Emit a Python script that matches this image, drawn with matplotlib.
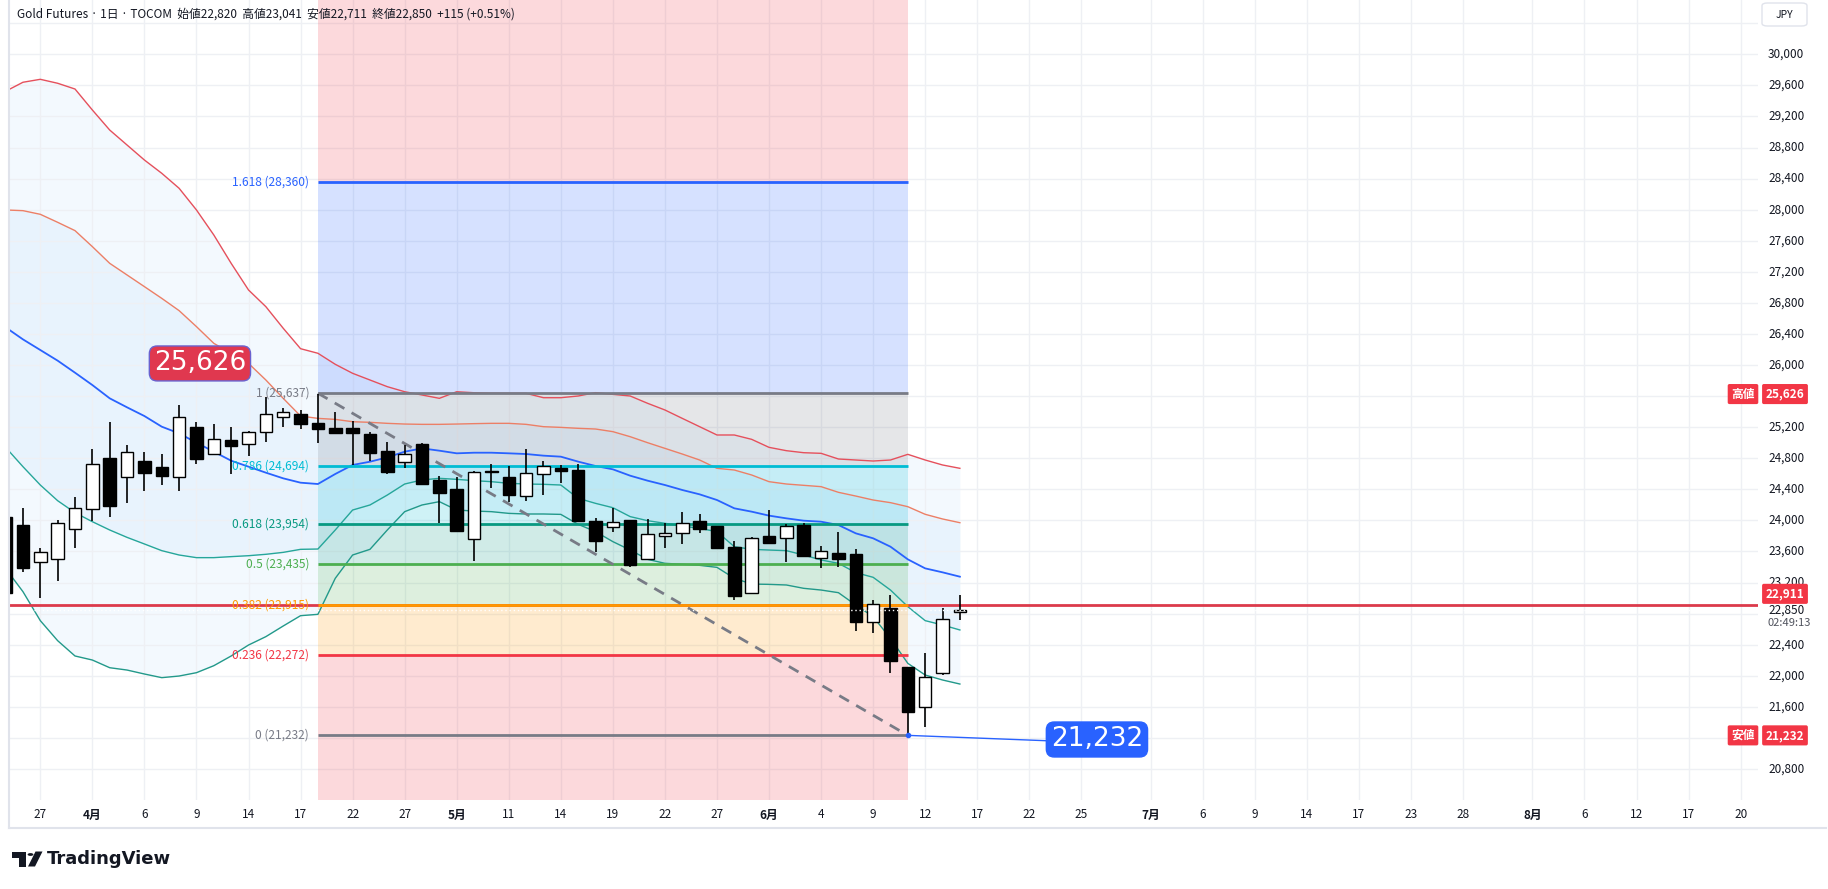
import matplotlib
matplotlib.use("Agg")
import matplotlib.pyplot as plt
import matplotlib.transforms as mtransforms
from matplotlib.patches import Polygon, Circle, FancyBboxPatch

plt.rcParams["font.family"] = ["Noto Sans CJK JP", "DejaVu Sans"]

# ---- data (bar index 0 = 3/27, first bar drawn is index -2) ----
first_bar = -2
opens = [24048, 23940, 23460, 23498, 23884, 24142, 24803, 24554, 24760, 24687,
         24562, 25197, 24859, 25034, 24979, 25133, 25326, 25365, 25249, 25185,
         25185, 25108, 24893, 24747, 24983, 24520, 24399, 23756, 24630, 24558,
         24318, 24592, 24674, 24648, 23996, 23910, 24005, 23502, 23798, 23833,
         23987, 23923, 23653, 23061, 23794, 23769, 23940, 23511, 23575, 23563,
         22696, 22867, 22108, 21601, 22039, 22820]
highs = [24150, 24155, 23640, 24005, 24305, 24923, 25271, 24970, 24880, 24854,
         25481, 25262, 25236, 25206, 25150, 25584, 25442, 25421, 25626, 25400,
         25283, 25137, 25004, 24966, 24990, 24571, 24562, 24630, 24721, 24700,
         24919, 24764, 24713, 24721, 24026, 24155, 24010, 24018, 23970, 24108,
         24086, 23930, 23734, 23790, 24133, 23949, 23962, 23670, 23850, 23631,
         22975, 23039, 22115, 22288, 22867, 23041]
lows = [22950, 23331, 23005, 23223, 23648, 23996, 24048, 24228, 24378, 24455,
        24382, 24730, 24850, 24592, 24833, 25013, 25206, 25172, 25000, 25115,
        24713, 24768, 24592, 24670, 24455, 23962, 23860, 23477, 24421, 24241,
        24254, 24331, 24485, 23983, 23597, 23854, 23404, 23490, 23648, 23691,
        23833, 23635, 22975, 23048, 23700, 23468, 23540, 23391, 23404, 22580,
        22554, 22031, 21232, 21344, 22009, 22711]
closes = [23060, 23391, 23588, 23962, 24155, 24721, 24189, 24876, 24614, 24575,
          25326, 24794, 25043, 24962, 25133, 25365, 25391, 25245, 25180, 25120,
          25129, 24863, 24627, 24850, 24468, 24348, 23867, 24618, 24625, 24331,
          24605, 24700, 24631, 23992, 23738, 23983, 23425, 23820, 23833, 23970,
          23884, 23640, 23030, 23769, 23704, 23932, 23545, 23610, 23498, 22696,
          22919, 22194, 21537, 21988, 22726, 22850]

# Bollinger bands (±1σ, ±2σ) read per bar
bb_upper2 = [29524, 29640, 29678, 29627, 29553, 29283, 29025, 28832, 28639, 28468,
             28275, 27996, 27674, 27309, 26966, 26751, 26473, 26210, 26151, 26009,
             25893, 25807, 25721, 25656, 25614, 25571, 25656, 25643, 25636, 25635,
             25635, 25579, 25579, 25601, 25644, 25622, 25601, 25507, 25421, 25313,
             25206, 25099, 25099, 25043, 24940, 24897, 24871, 24863, 24790, 24777,
             24764, 24777, 24850, 24777, 24713, 24670]
bb_upper1 = [27996, 27987, 27940, 27837, 27730, 27524, 27309, 27159, 27009, 26858,
             26700, 26494, 26279, 26150, 26021, 25807, 25571, 25343, 25313, 25300,
             25270, 25262, 25249, 25240, 25236, 25236, 25240, 25245, 25249, 25249,
             25236, 25206, 25197, 25185, 25176, 25142, 25077, 25000, 24927, 24854,
             24777, 24670, 24648, 24584, 24498, 24468, 24451, 24434, 24361, 24313,
             24262, 24228, 24176, 24078, 24018, 23970]
bb_middle = [26485, 26330, 26193, 26056, 25901, 25742, 25571, 25455, 25343, 25206,
             25120, 25000, 24884, 24768, 24691, 24614, 24541, 24485, 24468, 24597,
             24713, 24755, 24811, 24884, 24927, 24897, 24863, 24871, 24871, 24863,
             24854, 24833, 24820, 24756, 24700, 24657, 24575, 24511, 24455, 24391,
             24335, 24262, 24155, 24112, 24061, 24026, 23996, 23983, 23940, 23833,
             23769, 23661, 23498, 23382, 23331, 23275]
bb_lower1 = [24940, 24691, 24455, 24253, 24099, 23983, 23876, 23781, 23696, 23610,
             23554, 23520, 23520, 23533, 23545, 23563, 23588, 23627, 23631, 23876,
             24133, 24198, 24326, 24468, 24520, 24541, 24528, 24511, 24498, 24477,
             24468, 24464, 24455, 24284, 24219, 24163, 24048, 23996, 23962, 23927,
             23897, 23854, 23661, 23627, 23618, 23610, 23554, 23490, 23447, 23327,
             23267, 23103, 22889, 22709, 22653, 22589]
bb_lower2 = [23380, 23082, 22709, 22451, 22254, 22202, 22103, 22073, 22022, 21975,
             21996, 22039, 22129, 22254, 22395, 22503, 22640, 22773, 22790, 23254,
             23554, 23627, 23876, 24112, 24198, 24241, 24133, 24120, 24112, 24090,
             24082, 24082, 24077, 23949, 23855, 23726, 23618, 23498, 23447, 23434,
             23421, 23395, 23254, 23180, 23176, 23168, 23125, 23103, 23069, 22910,
             22760, 22480, 22159, 22009, 21945, 21893]

# Fibonacci retracement
fib_start, fib_end = 16, 50
fib_levels = ["0", "0.236", "0.382", "0.5", "0.618", "0.786", "1", "1.618"]
fib_prices = [21232, 22272, 22915, 23435, 23954, 24694, 25637, 28360]
fib_colors = ["#787b86", "#f23645", "#ff9800", "#4caf50", "#089981", "#00bcd4",
              "#787b86", "#2962ff"]

# time axis
tick_idx = [0, 3, 6, 9, 12, 15, 18, 21, 24, 27, 30, 33, 36, 39, 42, 45, 48, 51,
            54, 57, 60, 64, 67, 70, 73, 76, 79, 82, 86, 89, 92, 95, 98]
tick_labels = ["27", "4月", "6", "9", "14", "17", "22", "27", "5月", "11", "14",
               "19", "22", "27", "6月", "4", "9", "12", "17", "22", "25", "7月",
               "6", "9", "14", "17", "23", "28", "8月", "6", "12", "17", "20"]

price_ticks = list(range(20800, 30001, 400))
hidden_ticks = [21200, 22800, 25600]

high_price, low_price = 25626, 21232
hline_price = 22911
last_price = 22850
header = "Gold Futures · 1日 · TOCOM  始値22,820  高値23,041  安値22,711  終値22,850  +115 (+0.51%)"

# ---- figure ----
W, H = 1828, 889
fig = plt.figure(figsize=(W / 100, H / 100), dpi=100)
pane_l, pane_r, pane_b = 9.3, 1758, 800
ax = fig.add_axes([pane_l / W, 1 - pane_b / H, (pane_r - pane_l) / W, pane_b / H])
ax.set_xlim(-1.787, 99.0)
ax.set_ylim(20400, 30699)
for s in ax.spines.values():
    s.set_visible(False)
ax.set_yticks(list(range(20800, 30401, 400)))
ax.set_xticks(tick_idx)
ax.tick_params(length=0, labelleft=False, labelbottom=False)
ax.grid(color="#eef0f4", lw=1, zorder=0)
ax.set_axisbelow(True)

xs = list(range(first_bar, first_bar + len(closes)))

# bands
ax.fill_between(xs, bb_lower2, bb_upper2, color="#2196f3", alpha=0.05, lw=0, zorder=0.5)
ax.fill_between(xs, bb_lower1, bb_upper1, color="#2196f3", alpha=0.05, lw=0, zorder=0.5)
ax.plot(xs, bb_upper2, color="#e5505c", lw=1, zorder=2)
ax.plot(xs, bb_upper1, color="#ec7f66", lw=1, zorder=2)
ax.plot(xs, bb_middle, color="#2962ff", lw=1.3, zorder=2)
ax.plot(xs, bb_lower1, color="#26a69a", lw=1, zorder=2)
ax.plot(xs, bb_lower2, color="#22998a", lw=1, zorder=2)

# fib zones
ylo, yhi = ax.get_ylim()
fx = [fib_start, fib_end]
ax.fill_between(fx, fib_prices[-1], yhi, color="#f23645", alpha=0.19, lw=0, zorder=1)
ax.fill_between(fx, ylo, fib_prices[0], color="#f23645", alpha=0.19, lw=0, zorder=1)
for i in range(1, len(fib_prices)):
    ax.fill_between(fx, fib_prices[i - 1], fib_prices[i], color=fib_colors[i],
                    alpha=0.19, lw=0, zorder=1)
for lvl, p, c in zip(fib_levels, fib_prices, fib_colors):
    ax.plot(fx, [p, p], color=c, lw=2, zorder=2.9, solid_capstyle="butt")
    ax.text(fib_start - 0.5, p, f"{lvl} ({p:,})", color=c, fontsize=8.6,
            ha="right", va="center", zorder=3)
ax.plot(fx, [fib_prices[6], fib_prices[0]], color="#787b86", lw=2,
        ls=(0, (4, 3)), zorder=2.95)

# horizontal line + current price line
ax.axhline(hline_price, color="#dc3a4b", lw=2, zorder=2.8)
ax.axhline(last_price, color="white", lw=1, ls=(0, (1, 2)), zorder=4)

# candles
for x, o, h, l, c in zip(xs, opens, highs, lows, closes):
    ax.vlines(x, l, h, color="black", lw=1.2, zorder=3)
    bot = min(o, c)
    ht = max(abs(c - o), 12)
    ax.bar(x, ht, bottom=bot, width=0.72, color="black" if c < o else "white",
           edgecolor="black", lw=1, zorder=3.1)

# callouts
ax.text(9.2, 26020, f"{high_price:,}", color="white", fontsize=19, ha="center",
        va="center", zorder=6, family="DejaVu Sans",
        bbox=dict(boxstyle="round,pad=0.17,rounding_size=0.3", fc="#e0384f",
                  ec="#6a62cf", lw=1))
ax.plot([fib_end, 58.0], [low_price, 21163], color="#2962ff", lw=1, zorder=5)
ax.plot([fib_end], [low_price], "o", color="#2962ff", ms=3, zorder=5)
ax.text(60.9, 21179, f"{low_price:,}", color="white", fontsize=19, ha="center",
        va="center", zorder=6, family="DejaVu Sans",
        bbox=dict(boxstyle="round,pad=0.17,rounding_size=0.3", fc="#2962ff",
                  ec="#2962ff", lw=1))

# time axis labels
tb = mtransforms.blended_transform_factory(ax.transData, ax.transAxes)
for x, lab in zip(tick_idx, tick_labels):
    ax.text(x, -15 / pane_b, lab, transform=tb, ha="center", va="center",
            fontsize=8.5, color="#131722", clip_on=False,
            fontweight="bold" if "月" in lab else "normal")

# price axis labels
pb = mtransforms.blended_transform_factory(ax.transAxes, ax.transData)
pw = pane_r - pane_l


def ax_x(px):
    return (px - pane_l) / pw


for p in price_ticks:
    if p in hidden_ticks:
        continue
    ax.text(ax_x(1768), p, f"{p:,}", transform=pb, ha="left", va="center",
            fontsize=8.5, color="#131722", clip_on=False, zorder=6)


def red_tag(price, text, cx, dy=0, bold=True):
    ax.annotate(text, (ax_x(cx), price), xycoords=pb, xytext=(0, dy),
                textcoords="offset points", ha="center", va="center",
                fontsize=8.5, color="white",
                fontweight="bold" if bold else "normal", annotation_clip=False,
                zorder=7,
                bbox=dict(boxstyle="round,pad=0.3,rounding_size=0.15",
                          fc="#f23645", ec="none"))


red_tag(high_price, "高値", 1743)
red_tag(high_price, f"{high_price:,}", 1785)
red_tag(low_price, "安値", 1743)
red_tag(low_price, f"{low_price:,}", 1785)
red_tag(hline_price, f"{hline_price:,}", 1785, dy=8)
ax.text(ax_x(1768), last_price, f"{last_price:,}", transform=pb, ha="left",
        va="center", fontsize=8.5, color="#131722", clip_on=False, zorder=7)
ax.annotate("02:49:13", (ax_x(1768), last_price), xycoords=pb, xytext=(0, -9.8),
            textcoords="offset points", ha="left", va="center", fontsize=8,
            color="#50535e", annotation_clip=False)


# figure-level pieces (pixel helpers)
def fxy(px, py):
    return (px / W, 1 - py / H)


fig.text(*fxy(17, 14), header, fontsize=8.5, color="#131722", va="center")

jpy = FancyBboxPatch(fxy(1762, 26), 45 / W, 23 / H,
                     boxstyle="round,pad=0,rounding_size=0.003",
                     transform=fig.transFigure, fc="white", ec="#e0e3eb", lw=1)
fig.patches.append(jpy)
fig.text(*fxy(1784.5, 14.5), "JPY", fontsize=7.5, color="#131722",
         ha="center", va="center")

# widget border
fig.lines.append(plt.Line2D([fxy(9.3, 0)[0], fxy(9.3, 828)[0]],
                            [fxy(9.3, 0)[1], fxy(9.3, 828)[1]],
                            transform=fig.transFigure, color="#e0e3eb", lw=1.5))
fig.lines.append(plt.Line2D([fxy(9.3, 828)[0], fxy(1826, 828)[0]],
                            [fxy(9.3, 828)[1], fxy(1826, 828)[1]],
                            transform=fig.transFigure, color="#e0e3eb", lw=1.5))

# TradingView logo
fig.patches.append(Polygon([fxy(11.5, 851.5), fxy(26, 851.5), fxy(26, 866.5),
                            fxy(19, 866.5), fxy(19, 857.5), fxy(11.5, 857.5)],
                           closed=True, transform=fig.transFigure, fc="#131722",
                           ec="none"))
fig.patches.append(Circle(fxy(30.5, 854.5), 2.9 / W, transform=fig.transFigure,
                          fc="#131722", ec="none"))
fig.patches.append(Polygon([fxy(35.5, 851.5), fxy(42.5, 851.5), fxy(35, 866.5),
                            fxy(28, 866.5)], closed=True,
                           transform=fig.transFigure, fc="#131722", ec="none"))
fig.text(*fxy(47, 858.5), "TradingView", fontsize=13, fontweight="bold",
         color="#131722", va="center", ha="left", family="DejaVu Sans")

fig.savefig("out.png", dpi=100, facecolor="white")
